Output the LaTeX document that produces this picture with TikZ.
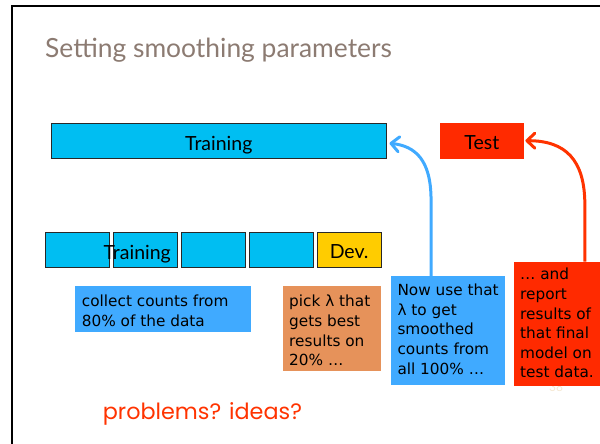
\documentclass[tikz,border=0pt]{standalone}
\usepackage{fontspec}
\newfontfamily\notefont{DejaVu Sans}
\newfontfamily\headfont{Lato}
\newfontfamily\askfont{Poppins}
\definecolor{titlegray}{RGB}{140,123,114}
\definecolor{barcyan}{RGB}{0,190,242}
\definecolor{barline}{RGB}{40,40,40}
\definecolor{devyellow}{RGB}{255,204,0}
\definecolor{testred}{RGB}{255,42,0}
\definecolor{noteblue}{RGB}{64,170,255}
\definecolor{noteorange}{RGB}{230,146,90}
\definecolor{askred}{RGB}{255,51,0}
\definecolor{pagenum}{RGB}{245,232,210}
\usetikzlibrary{positioning, arrows.meta, calc}

\begin{document}
\begin{tikzpicture}[x=1pt, y=-1pt,
  headtext/.style={font={\headfont\fontsize{19.5pt}{22pt}\selectfont}},
  bar/.style={headtext, minimum height=34.4pt, inner sep=0pt, text height=18pt, text depth=0pt},
  split/.style={bar, draw=barline, line width=0.8pt, fill=barcyan, minimum width=63.5pt},
  note/.style={anchor=north west, inner ysep=0pt, font={\notefont\fontsize{15.3pt}{19.6pt}\selectfont}},
  flow/.style={line width=3pt, -{Straight Barb[length=8pt, width=15pt, round]}}]
\useasboundingbox (0,0) rectangle (600,444);
% slide frame
\draw[line width=2.3pt] (12.2,444) -- (12.2,5.9) -- (600,5.9);
\node[anchor=base west, inner sep=0pt, text=titlegray, font={\headfont\fontsize{26.4pt}{30pt}\selectfont}] (title) at (45,58) {Setting smoothing parameters};

\node[bar, draw=barline, line width=0.8pt, fill=barcyan, anchor=north west, minimum width=334.7pt, minimum height=35pt] (train) at (51,123.3) {Training};
\node[bar, fill=testred, anchor=north west, minimum width=84.7pt, minimum height=35.6pt] (test) at (439.3,122.7) {Test};

% training data cut into 80/20
\node[split, anchor=north west] (part1) at (45,232.3) {};
\node[split, right=3.7pt of part1] (part2) {};
\node[split, right=3.7pt of part2] (part3) {};
\node[split, right=3.7pt of part3] (part4) {};
\node[split, fill=devyellow, right=3.7pt of part4] (dev) {Dev.};
\node[headtext, anchor=base, inner sep=0pt] (trainlabel) at (137.2,259) {Training};

% notes
\node[note, fill=noteblue, inner xsep=6.7pt] (collect) at (75,286)
  {\parbox[t][45.7pt][t]{162.3pt}{\vspace*{9pt}collect counts from\\80\% of the data}};
\node[note, fill=noteorange, inner xsep=6.7pt] (pick) at (282.3,286)
  {\parbox[t][84.7pt][t]{85pt}{\vspace*{9pt}pick λ that\\gets best\\results on\\20\% …}};
\node[note, fill=noteblue, inner xsep=6.3pt] (nowuse) at (391,276)
  {\parbox[t][108.3pt][t]{101.4pt}{\vspace*{7.8pt}Now use that\\λ to get\\smoothed\\counts from\\all 100\% …}};
\node[inner sep=0pt, anchor=base, text=pagenum, font={\headfont\fontsize{12pt}{14pt}\selectfont}] (pageno) at (556,391.5) {38};
\node[note, fill=testred, inner xsep=6pt] (report) at (514,261.7)
  {\parbox[t][124.3pt][t]{74pt}{\vspace*{6.3pt}… and\\report\\results of\\that final\\model on\\test data.}};

\draw[flow, color=noteblue] ($(nowuse.north west)!0.35!(nowuse.north east)$) -- ++(0,-76)
  .. controls +(0,-40) and +(26,3) .. ([xshift=3pt, yshift=-2pt]train.east);
\draw[flow, color=askred] ($(report.north west)!0.82!(report.north east)$) -- ++(0,-57)
  .. controls +(0,-45) and +(40,0) .. ([xshift=1pt]test.east);

\node[anchor=base west, inner sep=0pt, text=askred, font={\askfont\fontsize{22.3pt}{27pt}\selectfont}] (ask) at (102.7,419.3) {problems? ideas?};
\end{tikzpicture}
\end{document}
